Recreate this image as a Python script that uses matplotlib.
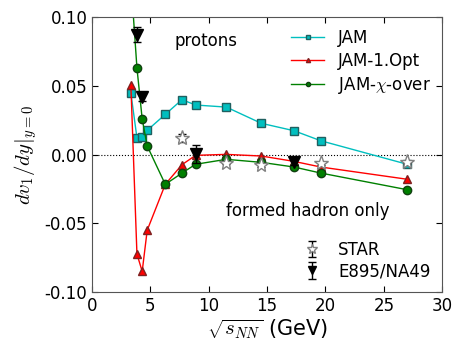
import numpy as np
import matplotlib
matplotlib.use("Agg")
import matplotlib.pyplot as plt

# collision energies (GeV)
e_jam = [3.32, 3.84, 4.29, 4.72, 6.27, 7.7, 8.87, 11.5, 14.5, 17.3, 19.6, 27.0]

v1_jam = [0.0447, 0.0122, 0.0130, 0.0176, 0.0292, 0.0399, 0.0360, 0.0345,
          0.0227, 0.0173, 0.0100, -0.0071]
v1_opt = [0.0503, -0.0724, -0.0850, -0.0551, -0.0217, -0.0074, -0.0006,
          0.0001, -0.0011, -0.0050, -0.0091, -0.0180]
v1_chi = [0.1270, 0.0630, 0.0258, 0.0062, -0.0217, -0.0135, -0.0071,
          -0.0035, -0.0057, -0.0091, -0.0135, -0.0256]

# experimental data
e_star = [7.7, 11.5, 14.5, 19.6, 27.0]
v1_star = [0.0122, -0.0060, -0.0079, -0.0064, -0.0057]
err_star = [0.0030, 0.0012, 0.0015, 0.0010, 0.0008]

e_exp = [3.84, 4.29, 8.87, 17.3]
v1_exp = [0.0870, 0.0420, 0.0004, -0.0055]
err_exp = [0.0055, 0.0030, 0.0067, 0.0020]

plt.rcParams["xtick.direction"] = "in"
plt.rcParams["ytick.direction"] = "in"
plt.rcParams["xtick.top"] = True
plt.rcParams["ytick.right"] = True
plt.rcParams["font.size"] = 12
plt.rcParams["mathtext.fontset"] = "cm"

fig = plt.figure(figsize=(4.63, 3.48), dpi=100)
ax = fig.add_axes([0.199, 0.161, 0.756, 0.79])

ax.axhline(0, color="k", ls=":", lw=0.8)

ax.plot(e_jam, v1_jam, "s-", color="c", mec="#206060", ms=6, lw=1, label="JAM")
ax.plot(e_jam, v1_opt, "^-", color="r", mec="#802020", ms=6, lw=1, label="JAM-1.Opt")
ax.plot(e_jam, v1_chi, "o-", color="g", mec="#104010", ms=6, lw=1,
        label=r"JAM-$\chi$-over")

h_star = ax.errorbar(e_star, v1_star, yerr=err_star, fmt="*", mfc="white",
                     mec="gray", ecolor="k", ms=11, capsize=3, elinewidth=1,
                     label="STAR")
h_exp = ax.errorbar(e_exp, v1_exp, yerr=err_exp, fmt="v", color="k", ms=8,
                    capsize=3, elinewidth=1, label="E895/NA49")

ax.set_xlim(0, 30)
ax.set_ylim(-0.1, 0.1)
ax.set_xticks([0, 5, 10, 15, 20, 25, 30])
ax.set_yticks([-0.10, -0.05, 0.00, 0.05, 0.10])
ax.yaxis.set_major_formatter(plt.FormatStrFormatter("%.2f"))
ax.tick_params(length=4, labelsize=12)
for s in ax.spines.values():
    s.set_color("#555555")

ax.set_xlabel(r"$\sqrt{s_{NN}}$ (GeV)", fontsize=15, labelpad=2)
ax.set_ylabel(r"$dv_1/dy|_{y=0}$", fontsize=15, labelpad=4)

ax.text(0.234, 0.913, "protons", transform=ax.transAxes, fontsize=12,
        va="center")
ax.text(0.383, 0.295, "formed hadron only", transform=ax.transAxes,
        fontsize=12, va="center")

lines = ax.get_lines()
leg1 = ax.legend(handles=lines[1:4], loc="upper right", frameon=False,
                 fontsize=12, markerscale=0.5, handlelength=2,
                 borderaxespad=0.3, labelspacing=0.3)
ax.add_artist(leg1)
ax.legend(handles=[h_star, h_exp], loc="lower right", frameon=False,
          fontsize=12, markerscale=0.7, handlelength=1.5,
          borderaxespad=0.3, labelspacing=0.2)

fig.savefig("out.png", dpi=100)
